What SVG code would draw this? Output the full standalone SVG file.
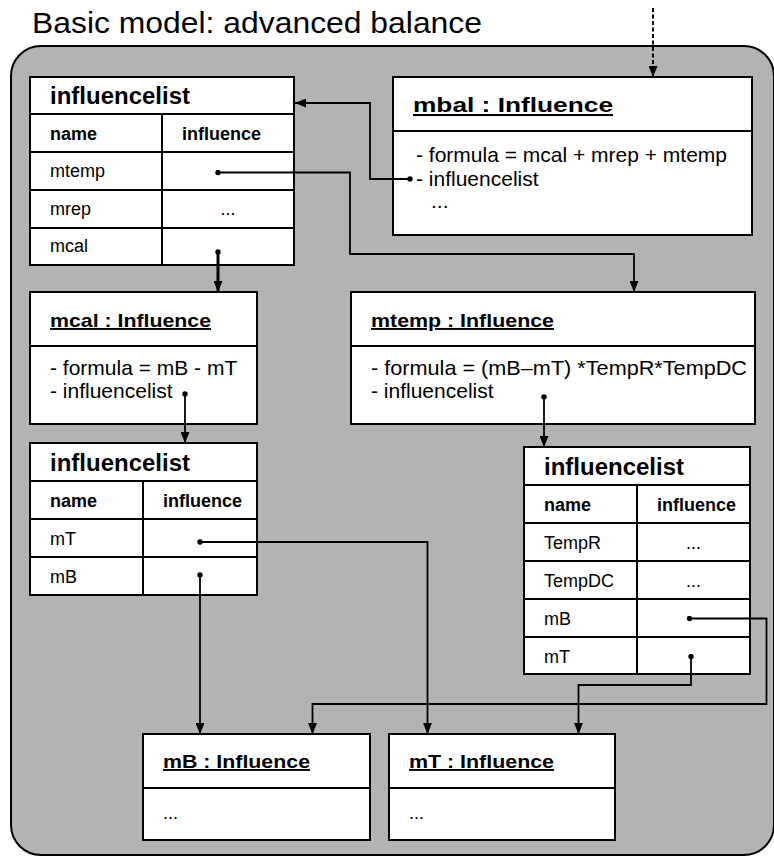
<svg xmlns="http://www.w3.org/2000/svg" width="774" height="857" viewBox="0 0 774 857">
  <defs>
    <style>
      text { font-family: "Liberation Sans", Arial, sans-serif; fill: #000; }
      .frame { fill: #b3b3b3; stroke: #000; stroke-width: 2; }
      .box { fill: #fff; stroke: #000; stroke-width: 2; }
      .rule { stroke: #000; stroke-width: 2; fill: none; }
      .conn { stroke: #000; stroke-width: 1.8; fill: none; marker-end: url(#arrow); marker-start: url(#dot); }
      .thick { stroke-width: 3; }
      .dashed { stroke: #000; stroke-width: 2; fill: none; stroke-dasharray: 4 2.5; marker-end: url(#arrow); }
      .heading { font-size: 29px; }
      .otitle { font-size: 19px; font-weight: bold; text-decoration: underline; }
      .ltitle { font-size: 23.5px; font-weight: bold; }
      .colhead { font-size: 18px; font-weight: bold; }
      .cell { font-size: 18px; }
      .attr { font-size: 21px; }
      .mid { text-anchor: middle; }
    </style>
    <marker id="arrow" viewBox="0 0 11 9" refX="11" refY="4.5" markerWidth="11" markerHeight="9" markerUnits="userSpaceOnUse" orient="auto">
      <path d="M0,0 L11,4.5 L0,9 z" fill="#000"/>
    </marker>
    <marker id="dot" viewBox="0 0 6 6" refX="3" refY="3" markerWidth="6" markerHeight="6" markerUnits="userSpaceOnUse">
      <circle cx="3" cy="3" r="2.7" fill="#000"/>
    </marker>
  </defs>

  <!-- package frame and heading -->
  <text class="heading" x="32" y="33" textLength="450" lengthAdjust="spacingAndGlyphs">Basic model: advanced balance</text>
  <rect class="frame" x="11" y="46" width="763" height="809" rx="30" ry="30"/>

  <!-- top-level influence object -->
  <g id="mbal">
    <rect class="box" x="393" y="77" width="359" height="158"/>
    <line class="rule" x1="393" y1="131" x2="752" y2="131"/>
    <text class="otitle" x="413" y="112" style="font-size:20.5px" textLength="200" lengthAdjust="spacingAndGlyphs">mbal : Influence</text>
    <text class="attr" x="416" y="162">- formula = mcal + mrep + mtemp</text>
    <text class="attr" x="416" y="186">- influencelist</text>
    <text class="attr" x="431" y="208">...</text>
  </g>

  <!-- influence list of mbal -->
  <g id="list-mbal">
    <rect class="box" x="30" y="77" width="264" height="188"/>
    <path class="rule" d="M30,114 H294 M30,152 H294 M30,190 H294 M30,228 H294 M162,114 V265"/>
    <text class="ltitle" x="50" y="104" textLength="140" lengthAdjust="spacingAndGlyphs">influencelist</text>
    <text class="colhead" x="50" y="140">name</text>
    <text class="colhead" x="182" y="140">influence</text>
    <text class="cell" x="50" y="177">mtemp</text>
    <text class="cell" x="50" y="215">mrep</text>
    <text class="cell mid" x="228" y="215">...</text>
    <text class="cell" x="50" y="252">mcal</text>
  </g>

  <!-- mcal object -->
  <g id="mcal">
    <rect class="box" x="30" y="292" width="227" height="132"/>
    <line class="rule" x1="30" y1="346" x2="257" y2="346"/>
    <text class="otitle" x="50" y="327" textLength="161" lengthAdjust="spacingAndGlyphs">mcal : Influence</text>
    <text class="attr" x="50" y="375">- formula = mB - mT</text>
    <text class="attr" x="50" y="398">- influencelist</text>
  </g>

  <!-- mtemp object -->
  <g id="mtemp">
    <rect class="box" x="351" y="292" width="404" height="132"/>
    <line class="rule" x1="351" y1="346" x2="755" y2="346"/>
    <text class="otitle" x="371" y="327" textLength="183" lengthAdjust="spacingAndGlyphs">mtemp : Influence</text>
    <text class="attr" x="371" y="375" textLength="376" lengthAdjust="spacingAndGlyphs">- formula = (mB–mT) *TempR*TempDC</text>
    <text class="attr" x="371" y="398">- influencelist</text>
  </g>

  <!-- influence list of mcal -->
  <g id="list-mcal">
    <rect class="box" x="30" y="443" width="227" height="152"/>
    <path class="rule" d="M30,481 H257 M30,519 H257 M30,557 H257 M143,481 V595"/>
    <text class="ltitle" x="50" y="471" textLength="140" lengthAdjust="spacingAndGlyphs">influencelist</text>
    <text class="colhead" x="50" y="507">name</text>
    <text class="colhead" x="163" y="507">influence</text>
    <text class="cell" x="50" y="545">mT</text>
    <text class="cell" x="50" y="583">mB</text>
  </g>

  <!-- influence list of mtemp -->
  <g id="list-mtemp">
    <rect class="box" x="524" y="447" width="226" height="227"/>
    <path class="rule" d="M524,485 H750 M524,523 H750 M524,561 H750 M524,599 H750 M524,637 H750 M637,485 V674"/>
    <text class="ltitle" x="544" y="475" textLength="140" lengthAdjust="spacingAndGlyphs">influencelist</text>
    <text class="colhead" x="544" y="511">name</text>
    <text class="colhead" x="657" y="511">influence</text>
    <text class="cell" x="544" y="549">TempR</text>
    <text class="cell mid" x="693.5" y="549">...</text>
    <text class="cell" x="544" y="587">TempDC</text>
    <text class="cell mid" x="693.5" y="587">...</text>
    <text class="cell" x="544" y="625">mB</text>
    <text class="cell" x="544" y="663">mT</text>
  </g>

  <!-- mB object -->
  <g id="mB">
    <rect class="box" x="143" y="734" width="227" height="106"/>
    <line class="rule" x1="143" y1="788" x2="370" y2="788"/>
    <text class="otitle" x="163" y="768" textLength="147" lengthAdjust="spacingAndGlyphs">mB : Influence</text>
    <text class="cell" x="163" y="819">...</text>
  </g>

  <!-- mT object -->
  <g id="mT">
    <rect class="box" x="389" y="734" width="226" height="106"/>
    <line class="rule" x1="389" y1="788" x2="615" y2="788"/>
    <text class="otitle" x="409" y="768" textLength="145" lengthAdjust="spacingAndGlyphs">mT : Influence</text>
    <text class="cell" x="409" y="819">...</text>
  </g>

  <!-- references between objects -->
  <g id="connectors">
    <path class="dashed" d="M653,8 V77"/>
    <path class="conn" d="M410,179 H370 V103 H295"/>
    <path class="conn" d="M218,172.5 H350 V254 H634 V292"/>
    <path class="conn thick" d="M218,252 V292"/>
    <path class="conn" d="M185,394 V443"/>
    <path class="conn" d="M544,397 V447"/>
    <path class="conn" d="M200,542 H427.5 V734"/>
    <path class="conn" d="M200,575 V734"/>
    <path class="conn" d="M689.5,618.5 H766.5 V704 H312.5 V734"/>
    <path class="conn" d="M691,656.5 V685 H578.5 V734"/>
  </g>
</svg>
